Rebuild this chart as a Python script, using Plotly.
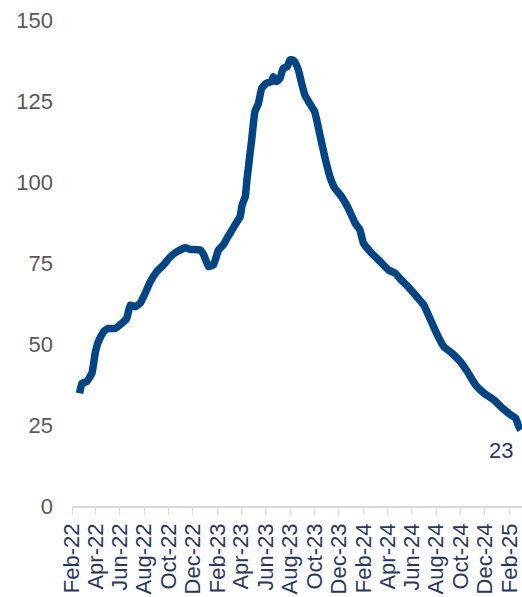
import plotly.graph_objects as go

# Values
dates = [
    "2022-02-20", "2022-02-26", "2022-03-10", "2022-03-23", "2022-03-31", "2022-04-08",
    "2022-04-21", "2022-05-03", "2022-05-20", "2022-06-06", "2022-06-18", "2022-06-27",
    "2022-07-09", "2022-07-22", "2022-08-03", "2022-08-16", "2022-09-01", "2022-09-18",
    "2022-10-05", "2022-10-22", "2022-11-12", "2022-11-24", "2022-12-19", "2022-12-28",
    "2023-01-09", "2023-01-21", "2023-02-03", "2023-02-15", "2023-02-24", "2023-03-04",
    "2023-03-16", "2023-03-29", "2023-04-03", "2023-04-11", "2023-04-15", "2023-04-27",
    "2023-05-05", "2023-05-14", "2023-05-22", "2023-06-03", "2023-06-16", "2023-06-20",
    "2023-06-28", "2023-07-07", "2023-07-15", "2023-07-25", "2023-08-01", "2023-08-08",
    "2023-08-13", "2023-08-22", "2023-08-30", "2023-09-07", "2023-09-20", "2023-10-02",
    "2023-10-15", "2023-10-27", "2023-11-09", "2023-11-21", "2023-12-08", "2023-12-25",
    "2024-01-11", "2024-01-23", "2024-02-01", "2024-02-18", "2024-03-14", "2024-04-04",
    "2024-04-21", "2024-05-03", "2024-05-20", "2024-06-10", "2024-07-01", "2024-07-18",
    "2024-08-04", "2024-08-20", "2024-09-10", "2024-10-01", "2024-10-18", "2024-11-08",
    "2024-11-29", "2024-12-24", "2025-01-14", "2025-02-04", "2025-02-16", "2025-02-24",
    "2025-03-01",
]
values = [
    34.8, 37.9, 38.4, 41.0, 47.1, 50.7,
    53.8, 54.8, 54.8, 56.4, 57.9, 62.0,
    61.5, 62.6, 65.6, 69.2, 72.3, 74.4,
    76.9, 78.5, 79.7, 79.2, 79.0, 77.5,
    73.9, 74.4, 79.0, 80.6, 82.6, 84.2,
    86.7, 89.3, 92.9, 95.5, 100.6, 113.0,
    121.7, 124.3, 128.9, 130.5, 131.0, 132.5,
    131.0, 132.0, 135.1, 135.6, 137.7, 137.7,
    137.1, 134.6, 130.5, 126.9, 124.1, 121.6,
    114.5, 107.8, 101.6, 98.1, 95.5, 91.9,
    87.3, 85.2, 81.1, 78.5, 75.4, 72.8,
    71.8, 70.1, 68.0, 65.1, 62.0, 57.4,
    52.8, 49.2, 47.1, 44.5, 41.5, 37.3,
    34.8, 32.7, 30.2, 28.1, 27.1, 24.5,
    23.5,
]
last_label = "23"

line_color = "#004586"
navy = "#1F3864"
grey = "#595959"
font_name = "Liberation Sans, Arial, sans-serif"

fig = go.Figure()
fig.add_trace(go.Scatter(
    x=dates,
    y=values,
    mode="lines",
    line=dict(color=line_color, width=7.5, shape="spline", smoothing=0.4),
    showlegend=False,
    hoverinfo="skip",
))

fig.add_annotation(
    x=dates[-1], y=values[-1],
    text=last_label,
    showarrow=False,
    xanchor="right", yanchor="top",
    xshift=-6, yshift=-6,
    font=dict(family=font_name, size=22, color=navy),
)

fig.update_layout(
    width=522, height=597,
    margin=dict(l=72, r=0, t=20, b=91),
    paper_bgcolor="white",
    plot_bgcolor="white",
    font=dict(family=font_name, size=22),
    xaxis=dict(
        type="date",
        range=["2022-02-01", "2025-03-04"],
        tick0="2022-02-01",
        dtick="M2",
        tickformat="%b-%y",
        tickangle=-90,
        ticks="outside",
        ticklen=7,
        tickcolor="#D9D9D9",
        showline=True,
        linecolor="#D9D9D9",
        linewidth=1.5,
        showgrid=False,
        zeroline=False,
        automargin=False,
        tickfont=dict(family=font_name, size=22, color=navy),
    ),
    yaxis=dict(
        range=[0, 150],
        tick0=0,
        dtick=25,
        showgrid=False,
        zeroline=False,
        showline=False,
        automargin=False,
        ticklabelstandoff=18,
        tickfont=dict(family=font_name, size=22, color=grey),
    ),
)

# drop the page's default body margin so the figure sits at the window corner
fig.write_html(
    "out.html",
    config={"displayModeBar": False},
    post_script="document.body.style.margin='0';",
)
